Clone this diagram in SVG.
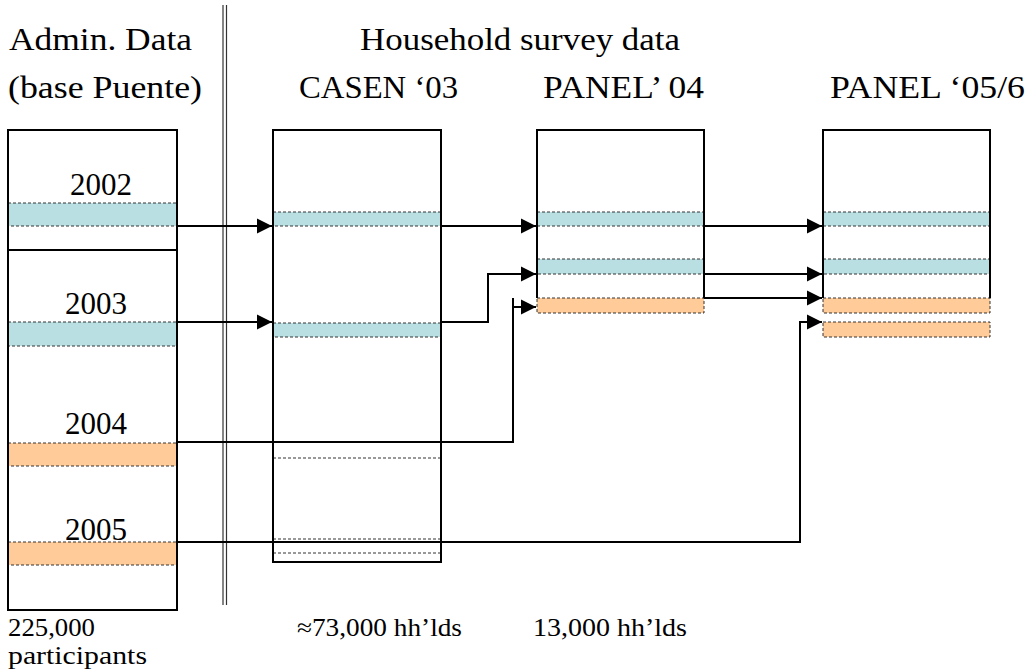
<svg xmlns="http://www.w3.org/2000/svg" width="1025" height="671" viewBox="0 0 1025 671">
<defs>
<style>
text{font-family:"Liberation Serif","Tinos","Times New Roman","Nimbus Roman","FreeSerif","Noto Serif","DejaVu Serif",serif;fill:#000}
.cm{font-size:32px}
.yr{font-size:31px}
.sm{font-size:25px}
.box{fill:none;stroke:#000;stroke-width:2}
.blue{fill:#B9DFE3;stroke:#333;stroke-width:1;stroke-dasharray:3 2}
.orange{fill:#FFCC99;stroke:#333;stroke-width:1;stroke-dasharray:3 2}
.dl{fill:none;stroke:#333;stroke-width:1;stroke-dasharray:3 2}
.conn{fill:none;stroke:#000;stroke-width:2}
.sep{stroke:#333;stroke-width:1.2}
</style>
<marker id="arr" markerUnits="userSpaceOnUse" markerWidth="16" markerHeight="16" viewBox="0 0 16 16" refX="15" refY="8" orient="auto">
<path d="M0,0.5 L15,8 L0,15.5 Z" fill="#000"/>
</marker>
</defs>
<rect width="1025" height="671" fill="#fff"/>

<g id="headers">
<text class="cm" x="9" y="50" textLength="183" lengthAdjust="spacingAndGlyphs">Admin. Data</text>
<text class="cm" x="8" y="98" textLength="194" lengthAdjust="spacingAndGlyphs">(base Puente)</text>
<text class="cm" x="360" y="50" textLength="320" lengthAdjust="spacingAndGlyphs">Household survey data</text>
<text class="cm" x="299" y="98" textLength="159" lengthAdjust="spacingAndGlyphs">CASEN ‘03</text>
<text class="cm" x="543" y="98" textLength="161" lengthAdjust="spacingAndGlyphs">PANEL’ 04</text>
<text class="cm" x="830" y="98" textLength="195" lengthAdjust="spacingAndGlyphs">PANEL ‘05/6</text>
</g>

<g id="separator">
<line class="sep" x1="223" y1="5" x2="223" y2="605"/>
<line class="sep" x1="226.5" y1="5" x2="226.5" y2="605"/>
</g>

<g id="admin">
<rect class="blue" x="8" y="203" width="169" height="23"/>
<rect class="blue" x="8" y="322" width="169" height="24"/>
<rect class="orange" x="8" y="443" width="169" height="23"/>
<rect class="orange" x="8" y="542" width="169" height="23"/>
<rect class="box" x="8" y="130" width="169" height="480"/>
<line class="box" x1="8" y1="250" x2="177" y2="250"/>
<text class="yr" x="70" y="195" textLength="62" lengthAdjust="spacingAndGlyphs">2002</text>
<text class="yr" x="65" y="314" textLength="62" lengthAdjust="spacingAndGlyphs">2003</text>
<text class="yr" x="65" y="434" textLength="62" lengthAdjust="spacingAndGlyphs">2004</text>
<text class="yr" x="65" y="540" textLength="62" lengthAdjust="spacingAndGlyphs">2005</text>
</g>

<g id="casen">
<rect class="blue" x="273" y="212" width="168" height="14"/>
<rect class="blue" x="273" y="323" width="168" height="14"/>
<line class="dl" x1="273" y1="458" x2="440" y2="458"/>
<line class="dl" x1="273" y1="539" x2="440" y2="539"/>
<line class="dl" x1="273" y1="553" x2="440" y2="553"/>
<rect class="box" x="273" y="130" width="168" height="432"/>
</g>

<g id="panel04">
<rect class="blue" x="537" y="212" width="167" height="14"/>
<rect class="blue" x="537" y="259" width="167" height="15"/>
<rect class="orange" x="537" y="298" width="167" height="15"/>
<path class="box" d="M537,298 V130 H704 V298"/>
</g>

<g id="panel0506">
<rect class="blue" x="823" y="212" width="167" height="14"/>
<rect class="blue" x="823" y="259" width="167" height="15"/>
<rect class="orange" x="823" y="298" width="167" height="15"/>
<rect class="orange" x="823" y="322" width="167" height="15"/>
<path class="box" d="M823,298 V130 H990 V298"/>
</g>

<g id="connectors">
<path class="conn" d="M177,226 H272" marker-end="url(#arr)"/>
<path class="conn" d="M177,322 H272" marker-end="url(#arr)"/>
<path class="conn" d="M441,226 H536" marker-end="url(#arr)"/>
<path class="conn" d="M441,322 H488 V274 H536" marker-end="url(#arr)"/>
<path class="conn" d="M177,442 H513 V298"/>
<path class="conn" d="M513,307 H536" marker-end="url(#arr)"/>
<path class="conn" d="M704,226 H822" marker-end="url(#arr)"/>
<path class="conn" d="M704,274 H822" marker-end="url(#arr)"/>
<path class="conn" d="M704,298 H822" marker-end="url(#arr)"/>
<path class="conn" d="M177,542 H800 V322 H822" marker-end="url(#arr)"/>
</g>

<g id="footers">
<text class="sm" x="8" y="636" textLength="87" lengthAdjust="spacingAndGlyphs">225,000</text>
<text class="sm" x="8" y="664" textLength="139" lengthAdjust="spacingAndGlyphs">participants</text>
<text class="sm" x="297" y="636" textLength="165" lengthAdjust="spacingAndGlyphs">≈73,000 hh’lds</text>
<text class="sm" x="533" y="636" textLength="154" lengthAdjust="spacingAndGlyphs">13,000 hh’lds</text>
</g>
</svg>
